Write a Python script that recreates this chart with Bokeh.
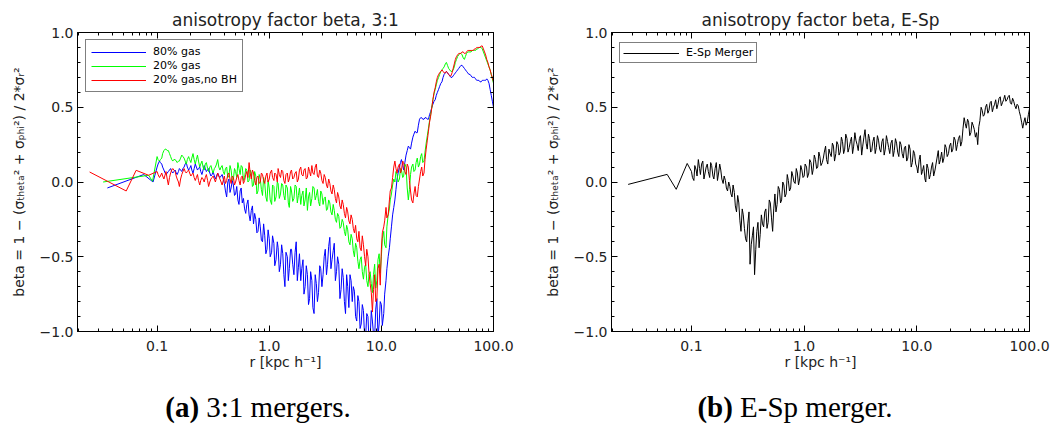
from bokeh.plotting import figure
from bokeh.models import (Range1d, LogAxis, LinearAxis, FixedTicker, CustomJSTickFormatter,
                          Legend, LegendItem, Div)
from bokeh.layouts import row, column
from bokeh.embed import file_html
from bokeh.resources import INLINE

# ---------------- data ----------------
R_GRID = [
    0.100, 0.105, 0.110, 0.115, 0.120, 0.126, 0.132, 0.138, 0.145, 0.151,
    0.158, 0.166, 0.174, 0.182, 0.191, 0.200, 0.209, 0.219, 0.229, 0.240,
    0.251, 0.263, 0.275, 0.288, 0.302, 0.316, 0.331, 0.347, 0.363, 0.380,
    0.398, 0.417, 0.437, 0.457, 0.479, 0.501, 0.525, 0.550, 0.575, 0.603,
    0.631, 0.661, 0.692, 0.724, 0.759, 0.794, 0.832, 0.871, 0.912, 0.955,
    1.00, 1.05, 1.10, 1.15, 1.20, 1.26, 1.32, 1.38, 1.45, 1.51,
    1.58, 1.66, 1.74, 1.82, 1.91, 2.00, 2.09, 2.19, 2.29, 2.40,
    2.51, 2.63, 2.75, 2.88, 3.02, 3.16, 3.31, 3.47, 3.63, 3.80,
    3.98, 4.17, 4.37, 4.57, 4.79, 5.01, 5.25, 5.50, 5.75, 6.03,
    6.31, 6.61, 6.92, 7.24, 7.59, 7.94, 8.32, 8.71, 9.12, 9.55,
    10.0, 10.5, 11.0, 11.5, 12.0, 12.6, 13.2, 13.8, 14.5, 15.1,
    15.8, 16.6, 17.4, 18.2, 19.1, 20.0, 20.9, 21.9, 22.9, 24.0,
    25.1, 26.3, 27.5, 28.8, 30.2, 31.6, 33.1, 34.7, 36.3, 38.0,
    39.8, 41.7, 43.7, 45.7, 47.9, 50.1, 52.5, 55.0, 57.5, 60.3,
    63.1, 66.1, 69.2, 72.4, 75.9, 79.4, 83.2, 87.1, 91.2, 95.5,
    100.0,
]
# radii of the in-between samples
R_MID = [
    0.102, 0.107, 0.112, 0.118, 0.123, 0.129, 0.135, 0.141, 0.148, 0.155,
    0.162, 0.170, 0.178, 0.186, 0.195, 0.204, 0.214, 0.224, 0.234, 0.245,
    0.257, 0.269, 0.282, 0.295, 0.309, 0.324, 0.339, 0.355, 0.372, 0.389,
    0.407, 0.427, 0.447, 0.468, 0.490, 0.513, 0.537, 0.562, 0.589, 0.617,
    0.646, 0.676, 0.708, 0.741, 0.776, 0.813, 0.851, 0.891, 0.933, 0.977,
    1.02, 1.07, 1.12, 1.18, 1.23, 1.29, 1.35, 1.41, 1.48, 1.55,
    1.62, 1.70, 1.78, 1.86, 1.95, 2.04, 2.14, 2.24, 2.34, 2.45,
    2.57, 2.69, 2.82, 2.95, 3.09, 3.24, 3.39, 3.55, 3.72, 3.89,
    4.07, 4.27, 4.47, 4.68, 4.90, 5.13, 5.37, 5.62, 5.89, 6.17,
    6.46, 6.76, 7.08, 7.41, 7.76, 8.13, 8.51, 8.91, 9.33, 9.77,
    10.2, 10.7, 11.2, 11.8, 12.3, 12.9, 13.5, 14.1, 14.8, 15.5,
    16.2, 17.0, 17.8, 18.6, 19.5, 20.4, 21.4, 22.4, 23.4, 24.5,
    25.7, 26.9, 28.2, 29.5, 30.9, 32.4, 33.9, 35.5, 37.2, 38.9,
    40.7, 42.7, 44.7, 46.8, 49.0, 51.3, 53.7, 56.2, 58.9, 61.7,
    64.6, 67.6, 70.8, 74.1, 77.6, 81.3, 85.1, 89.1, 93.3, 97.7,
]

# 80% gas (blue)
BLUE_R0 = [0.036, 0.076, 0.092]
BLUE_B0 = [-0.04, 0.05, 0.00]
BLUE_BETA = [
    0.10, 0.14, 0.12, 0.08, 0.05, 0.07, 0.09, 0.06, 0.08, 0.05,
    0.09, 0.07, 0.10, 0.13, 0.08, 0.11, 0.06, 0.12, 0.08, 0.10,
    0.05, 0.11, 0.07, 0.09, 0.04, 0.07, 0.02, 0.06, 0.03, 0.05,
    -0.01, -0.10, 0.02, -0.04, -0.02, -0.08, -0.12, -0.06, -0.14, -0.18,
    -0.15, -0.22, -0.19, -0.28, -0.25, -0.33, -0.30, -0.40, -0.36, -0.45,
    -0.38, -0.47, -0.41, -0.52, -0.44, -0.55, -0.48, -0.70, -0.50, -0.58,
    -0.45, -0.62, -0.40, -0.57, -0.66, -0.52, -0.70, -0.62, -0.78, -0.66,
    -0.88, -0.68, -0.74, -0.58, -0.62, -0.45, -0.55, -0.37, -0.52, -0.41,
    -0.60, -0.55, -0.72, -0.64, -0.88, -0.70, -0.62, -0.80, -0.73, -0.93,
    -0.80, -0.95, -0.86, -1.04, -0.90, -1.05, -0.93, -1.04, -0.78, -0.95,
    -0.82, -0.88, -0.66, -0.50, -0.38, -0.22, -0.12, 0.02, 0.10, 0.15,
    0.08, 0.18, 0.24, 0.22, 0.30, 0.34, 0.33, 0.42, 0.43, 0.42,
    0.43, 0.42, 0.47, 0.52, 0.55, 0.60, 0.64, 0.67, 0.72, 0.74,
    0.72, 0.70, 0.71, 0.73, 0.75, 0.77, 0.78, 0.76, 0.74, 0.72,
    0.71, 0.70, 0.69, 0.68, 0.67, 0.68, 0.68, 0.69, 0.66, 0.58,
    0.50,
]
BLUE_MID = [
    0.12, 0.13, 0.10, 0.06, 0.06, 0.08, 0.07, 0.07, 0.06, 0.07,
    0.08, 0.09, 0.12, 0.10, 0.09, 0.08, 0.09, 0.10, 0.09, 0.07,
    0.08, 0.09, 0.08, 0.06, 0.05, 0.04, 0.04, 0.04, 0.04, 0.02,
    -0.06, 0.00, -0.07, 0.01, -0.09, -0.03, -0.15, -0.04, -0.11, -0.21,
    -0.12, -0.26, -0.16, -0.21, -0.34, -0.24, -0.39, -0.28, -0.48, -0.32,
    -0.50, -0.36, -0.56, -0.40, -0.60, -0.42, -0.62, -0.47, -0.66, -0.45,
    -0.55, -0.47, -0.66, -0.48, -0.58, -0.75, -0.56, -0.82, -0.60, -0.84,
    -0.62, -0.80, -0.56, -0.70, -0.50, -0.62, -0.43, -0.58, -0.46, -0.66,
    -0.50, -0.78, -0.58, -0.80, -0.62, -0.84, -0.66, -0.70, -0.90, -0.76,
    -0.98, -0.82, -1.03, -0.88, -1.06, -0.86, -1.02, -0.85, -1.03, -0.80,
    -0.96, -0.75, -0.58, -0.44, -0.30, -0.17, -0.05, 0.06, 0.13, 0.11,
    0.13, 0.21, 0.23, 0.26, 0.32, 0.33, 0.38, 0.43, 0.42, 0.43,
    0.42, 0.45, 0.50, 0.54, 0.58, 0.62, 0.66, 0.70, 0.73, 0.73,
    0.71, 0.70, 0.72, 0.74, 0.76, 0.78, 0.77, 0.75, 0.73, 0.72,
    0.70, 0.70, 0.68, 0.68, 0.67, 0.68, 0.68, 0.68, 0.62, 0.54,
]

# 20% gas (green)
GREEN_R0 = [0.033, 0.084, 0.091]
GREEN_B0 = [0.00, 0.045, 0.005]
GREEN_BETA = [
    0.17, 0.14, 0.16, 0.21, 0.22, 0.21, 0.17, 0.14, 0.15, 0.13,
    0.14, 0.18, 0.16, 0.12, 0.17, 0.13, 0.19, 0.12, 0.18, 0.10,
    0.14, 0.08, 0.13, 0.07, 0.11, 0.06, 0.10, 0.15, 0.08, 0.11,
    0.05, 0.10, 0.04, 0.08, 0.02, 0.07, 0.13, 0.05, 0.10, 0.03,
    0.08, 0.01, 0.06, -0.02, 0.04, -0.06, 0.02, -0.09, -0.01, -0.13,
    -0.04, -0.15, -0.03, -0.10, -0.01, -0.08, -0.02, -0.12, -0.04, -0.17,
    -0.06, -0.11, -0.03, -0.09, -0.15, -0.06, -0.12, -0.19, -0.07, -0.11,
    -0.04, -0.09, -0.13, -0.06, -0.15, -0.10, -0.18, -0.14, -0.22, -0.19,
    -0.27, -0.23, -0.30, -0.27, -0.36, -0.32, -0.42, -0.38, -0.50, -0.44,
    -0.58, -0.50, -0.65, -0.55, -0.70, -0.60, -0.74, -0.55, -0.66, -0.48,
    -0.50, -0.33, -0.44, -0.22, -0.12, -0.02, 0.00, 0.05, 0.02, 0.08,
    0.04, 0.10, -0.12, 0.05, 0.12, 0.08, 0.16, 0.12, 0.19, 0.14,
    0.26, 0.36, 0.45, 0.55, 0.62, 0.68, 0.72, 0.75, 0.77, 0.80,
    0.76, 0.74, 0.75, 0.80, 0.84, 0.86, 0.85, 0.82, 0.86, 0.87,
    0.87, 0.88, 0.88, 0.89, 0.90, 0.89, 0.85, 0.81, 0.77, 0.72,
    0.66,
]
GREEN_MID = [
    0.15, 0.15, 0.19, 0.22, 0.21, 0.19, 0.15, 0.15, 0.14, 0.14,
    0.16, 0.17, 0.14, 0.15, 0.15, 0.16, 0.15, 0.15, 0.14, 0.12,
    0.10, 0.12, 0.09, 0.10, 0.08, 0.09, 0.12, 0.10, 0.10, 0.07,
    0.09, 0.03, 0.11, 0.01, 0.09, 0.03, 0.09, 0.11, 0.01, 0.09,
    0.00, 0.08, -0.03, 0.07, -0.08, 0.05, -0.05, 0.03, -0.10, 0.01,
    -0.12, -0.02, -0.13, 0.00, -0.11, -0.01, -0.09, -0.02, -0.14, -0.03,
    -0.13, -0.02, -0.14, -0.04, -0.09, -0.16, -0.04, -0.10, -0.16, -0.03,
    -0.12, -0.05, -0.16, -0.08, -0.11, -0.19, -0.12, -0.20, -0.15, -0.25,
    -0.21, -0.31, -0.25, -0.33, -0.29, -0.40, -0.35, -0.46, -0.41, -0.53,
    -0.52, -0.60, -0.57, -0.66, -0.62, -0.68, -0.62, -0.71, -0.52, -0.61,
    -0.38, -0.42, -0.30, -0.18, -0.08, 0.02, 0.07, 0.00, 0.09, 0.03,
    0.12, -0.04, -0.05, 0.10, 0.07, 0.13, 0.10, 0.17, 0.13, 0.20,
    0.31, 0.41, 0.50, 0.59, 0.65, 0.70, 0.74, 0.76, 0.79, 0.78,
    0.75, 0.74, 0.77, 0.82, 0.85, 0.86, 0.83, 0.84, 0.87, 0.87,
    0.88, 0.88, 0.89, 0.90, 0.90, 0.87, 0.83, 0.79, 0.75, 0.69,
]

# 20% gas, no BH (red)
RED_R0 = [0.025, 0.053, 0.065, 0.084]
RED_B0 = [0.067, -0.06, 0.078, 0.045]
RED_BETA = [
    0.07, 0.03, 0.06, 0.02, 0.07, -0.02, 0.06, 0.09, 0.07, 0.02,
    -0.03, 0.05, 0.09, 0.06, 0.08, 0.04, 0.06, 0.01, 0.05, -0.02,
    0.03, 0.00, 0.05, -0.03, 0.02, 0.04, 0.00, 0.06, 0.02, -0.02,
    0.04, 0.01, 0.06, -0.01, 0.03, 0.00, 0.05, -0.02, 0.04, 0.01,
    0.07, 0.13, 0.02, 0.06, -0.02, 0.04, 0.00, 0.05, -0.01, 0.06,
    0.02, 0.08, 0.01, 0.05, 0.09, 0.03, 0.07, -0.01, 0.06, 0.02,
    0.08, 0.03, 0.07, 0.02, 0.10, 0.04, 0.09, 0.03, 0.07, 0.11,
    0.05, 0.12, 0.03, 0.06, -0.01, 0.03, -0.04, -0.01, -0.08, -0.05,
    -0.14, -0.10, -0.18, -0.15, -0.24, -0.20, -0.28, -0.25, -0.34, -0.38,
    -0.33, -0.46, -0.42, -0.56, -0.50, -0.68, -0.87, -0.62, -0.78, -0.55,
    -0.45, -0.30, -0.17, -0.22, -0.06, 0.03, 0.14, 0.06, 0.12, 0.08,
    0.13, 0.05, 0.10, -0.06, -0.14, -0.03, -0.10, 0.02, 0.10, 0.06,
    0.22, 0.34, 0.44, 0.55, 0.63, 0.70, 0.73, 0.75, 0.73, 0.74,
    0.72, 0.71, 0.76, 0.82, 0.85, 0.86, 0.87, 0.86, 0.87, 0.88,
    0.88, 0.88, 0.89, 0.90, 0.90, 0.91, 0.87, 0.82, 0.77, 0.72,
    0.67,
]
RED_MID = [
    0.05, 0.04, 0.04, 0.05, 0.02, 0.03, 0.08, 0.08, 0.04, 0.00,
    0.02, 0.07, 0.07, 0.07, 0.06, 0.05, 0.03, 0.03, 0.01, 0.01,
    0.02, 0.03, 0.01, 0.00, 0.03, 0.02, 0.03, 0.04, 0.00, 0.01,
    -0.01, 0.05, 0.02, 0.04, -0.02, 0.03, 0.01, 0.03, -0.01, 0.05,
    0.03, 0.06, 0.08, 0.01, 0.03, -0.01, 0.06, 0.01, 0.04, 0.00,
    0.06, 0.03, 0.06, 0.00, 0.05, 0.08, 0.01, 0.05, 0.00, 0.07,
    0.02, 0.06, 0.00, 0.08, 0.05, 0.08, 0.02, 0.10, 0.04, 0.06,
    0.10, 0.04, 0.08, 0.01, 0.05, -0.02, 0.02, -0.06, -0.02, -0.11,
    -0.07, -0.16, -0.12, -0.21, -0.17, -0.26, -0.22, -0.31, -0.29, -0.40,
    -0.44, -0.36, -0.50, -0.45, -0.61, -0.74, -0.72, -0.80, -0.58, -0.69,
    -0.34, -0.26, -0.24, -0.12, -0.04, 0.10, 0.09, 0.10, 0.06, 0.14,
    0.07, 0.12, 0.01, -0.12, -0.08, -0.09, -0.03, 0.07, 0.04, 0.15,
    0.28, 0.40, 0.50, 0.60, 0.67, 0.72, 0.74, 0.74, 0.73, 0.73,
    0.71, 0.73, 0.79, 0.84, 0.86, 0.86, 0.87, 0.86, 0.88, 0.88,
    0.88, 0.89, 0.90, 0.90, 0.91, 0.89, 0.85, 0.80, 0.75, 0.70,
]

# E-Sp merger (black)
ESP_R0 = [0.0274, 0.0608, 0.0732, 0.0916]
ESP_B0 = [-0.016, 0.051, -0.049, 0.124]
ESP_BETA = [
    0.07, 0.01, 0.08, 0.15, 0.05, 0.14, 0.06, 0.12, 0.03, 0.11,
    0.02, 0.13, 0.06, 0.08, -0.01, 0.01, -0.06, -0.03, -0.10, -0.07,
    -0.20, -0.14, -0.33, -0.22, -0.38, -0.28, -0.55, -0.36, -0.62, -0.33,
    -0.44, -0.22, -0.30, -0.18, -0.27, -0.14, -0.33, -0.08, -0.15, -0.05,
    -0.12, -0.02, -0.08, 0.01, -0.04, 0.04, -0.01, 0.06, 0.02, 0.08,
    0.04, 0.10, 0.06, 0.13, 0.08, 0.15, 0.10, 0.17, 0.13, 0.20,
    0.15, 0.22, 0.17, 0.24, 0.19, 0.25, 0.20, 0.27, 0.22, 0.29,
    0.23, 0.30, 0.24, 0.28, 0.21, 0.31, 0.24, 0.35, 0.22, 0.29,
    0.21, 0.30, 0.23, 0.28, 0.20, 0.29, 0.22, 0.27, 0.19, 0.28,
    0.21, 0.26, 0.17, 0.25, 0.16, 0.24, 0.16, 0.22, 0.13, 0.19,
    0.10, 0.15, 0.05, 0.11, 0.00, 0.09, 0.05, 0.13, 0.08, 0.16,
    0.12, 0.20, 0.16, 0.23, 0.19, 0.26, 0.22, 0.28, 0.25, 0.31,
    0.27, 0.43, 0.36, 0.40, 0.33, 0.38, 0.30, 0.25, 0.41, 0.48,
    0.45, 0.52, 0.48, 0.54, 0.50, 0.55, 0.52, 0.57, 0.53, 0.58,
    0.55, 0.58, 0.52, 0.54, 0.49, 0.51, 0.44, 0.36, 0.43, 0.40,
    0.49,
]
ESP_MID = [
    0.03, 0.11, 0.04, 0.09, 0.12, 0.02, 0.10, 0.07, 0.13, 0.04,
    0.09, 0.01, 0.12, 0.02, 0.04, -0.04, 0.00, -0.08, -0.02, -0.16,
    -0.09, -0.26, -0.18, -0.31, -0.40, -0.20, -0.42, -0.30, -0.45, -0.27,
    -0.35, -0.28, -0.20, -0.31, -0.12, -0.24, -0.18, -0.20, -0.03, -0.14,
    0.00, -0.10, 0.05, -0.06, 0.07, 0.00, 0.09, -0.02, 0.11, 0.03,
    0.12, 0.03, 0.15, 0.05, 0.18, 0.09, 0.20, 0.11, 0.16, 0.24,
    0.12, 0.19, 0.26, 0.14, 0.27, 0.18, 0.30, 0.19, 0.32, 0.20,
    0.27, 0.19, 0.33, 0.25, 0.29, 0.18, 0.30, 0.26, 0.32, 0.20,
    0.27, 0.19, 0.31, 0.22, 0.27, 0.18, 0.31, 0.23, 0.26, 0.17,
    0.29, 0.20, 0.27, 0.19, 0.23, 0.14, 0.25, 0.10, 0.21, 0.12,
    0.06, 0.18, 0.07, 0.02, 0.12, 0.02, 0.10, 0.04, 0.12, 0.21,
    0.15, 0.13, 0.25, 0.17, 0.24, 0.20, 0.30, 0.21, 0.29, 0.24,
    0.36, 0.39, 0.42, 0.31, 0.40, 0.35, 0.33, 0.37, 0.50, 0.44,
    0.50, 0.46, 0.53, 0.47, 0.52, 0.49, 0.56, 0.51, 0.55, 0.54,
    0.57, 0.53, 0.56, 0.51, 0.52, 0.47, 0.40, 0.40, 0.38, 0.45,
]

LEFT_LABELS = ["80% gas", "20% gas", "20% gas,no BH"]
RIGHT_LABELS = ["E-Sp Merger"]
TITLES = ["anisotropy factor beta, 3:1", "anisotropy factor beta, E-Sp"]
CAPTION_TAGS = ["(a)", "(b)"]
CAPTION_TEXTS = ["3:1 mergers.", "E-Sp merger."]
X_TICKS = [0.1, 1.0, 10.0, 100.0]
Y_TICKS = [-1.0, -0.5, 0.0, 0.5, 1.0]
X_RANGE = (0.0195, 100.0)
Y_RANGE = (-1.0, 1.0)

for arr in (BLUE_BETA, GREEN_BETA, RED_BETA, ESP_BETA):
    assert len(arr) == len(R_GRID), len(arr)
for arr in (BLUE_MID, GREEN_MID, RED_MID, ESP_MID):
    assert len(arr) == len(R_MID), len(arr)


def series(r0, b0, beta, mid):
    """Join the sparse inner samples with the main and in-between samples, in radius order."""
    xs = list(r0)
    ys = list(b0)
    for k in range(len(R_MID)):
        xs += [R_GRID[k], R_MID[k]]
        ys += [beta[k], mid[k]]
    xs.append(R_GRID[-1])
    ys.append(beta[-1])
    return xs, ys


FONT = "DejaVu Sans"
TXT = "#222222"
Y_LABEL = "beta = 1 \u2212 (\u03c3\u209c\u2095\u2091\u209c\u2090\u00b2 + \u03c3\u209a\u2095\u1d62\u00b2) / 2*\u03c3\u1d63\u00b2"
X_LABEL = "r [kpc h\u207b\u00b9]"

X_MINOR = [k * 10.0 ** d for d in (-2, -1, 0, 1) for k in range(2, 10)]
Y_MINOR = [i / 10 for i in range(-10, 11) if i % 5 != 0]

fmt_code = "return tick.toFixed(1).replace('-', '\\u2212');"


def style_axis(ax, ticks, minor, labels):
    ax.ticker = FixedTicker(ticks=ticks, minor_ticks=minor)
    ax.major_tick_in = 6
    ax.major_tick_out = 0
    ax.minor_tick_in = 3
    ax.minor_tick_out = 0
    ax.axis_line_color = "black"
    ax.major_tick_line_color = "black"
    ax.minor_tick_line_color = "black"
    if labels:
        ax.formatter = CustomJSTickFormatter(code=fmt_code)
        ax.major_label_text_font = FONT
        ax.major_label_text_font_size = "14px"
        ax.major_label_text_color = TXT
        ax.axis_label_text_font = FONT
        ax.axis_label_text_font_size = "14px"
        ax.axis_label_text_font_style = "normal"
        ax.axis_label_text_color = TXT
    else:
        ax.major_label_text_font_size = "1px"
        ax.major_label_text_color = None
        ax.major_label_standoff = 0


def make_fig(border_left, border_right, title):
    p = figure(width=528, height=385, x_axis_type="log",
               x_range=Range1d(*X_RANGE), y_range=Range1d(*Y_RANGE),
               output_backend="svg", toolbar_location=None,
               min_border_left=border_left, min_border_right=border_right,
               min_border_top=32, min_border_bottom=54)
    p.xgrid.visible = False
    p.ygrid.visible = False
    p.outline_line_color = "black"
    p.outline_line_width = 1
    p.background_fill_color = "white"
    p.border_fill_color = "white"

    p.title.text = title
    p.title.align = "center"
    p.title.text_font = FONT
    p.title.text_font_size = "17px"
    p.title.text_font_style = "normal"
    p.title.text_color = TXT
    p.title.standoff = 5
    p.title.offset = 0

    xa = p.xaxis[0]
    style_axis(xa, X_TICKS, X_MINOR, True)
    xa.axis_label = X_LABEL
    xa.major_label_standoff = 9
    xa.axis_label_standoff = 0
    ya = p.yaxis[0]
    style_axis(ya, Y_TICKS, Y_MINOR, True)
    ya.axis_label = Y_LABEL
    ya.major_label_standoff = 4
    ya.axis_label_standoff = 10

    top = LogAxis()
    style_axis(top, X_TICKS, X_MINOR, False)
    p.add_layout(top, "above")
    right = LinearAxis()
    style_axis(right, Y_TICKS, Y_MINOR, False)
    p.add_layout(right, "right")
    return p


def style_legend(leg):
    leg.border_line_color = "black"
    leg.border_line_width = 1
    leg.background_fill_color = "white"
    leg.background_fill_alpha = 1.0
    leg.label_text_font = FONT
    leg.label_text_font_size = "11px"
    leg.label_text_color = "black"
    leg.glyph_height = 12
    leg.label_height = 12
    leg.spacing = 1
    leg.margin = 0


def caption(tag, text, shift):
    html = ('<div style="width:528px;text-align:center;font-family:\'Liberation Serif\';'
            'font-size:29px;line-height:30px;color:black;padding-top:7px;'
            'position:relative;left:%dpx;"><b>%s</b> %s</div>' % (shift, tag, text))
    return Div(text=html, width=528, height=40, margin=0)


# ---------------- left panel ----------------
p1 = make_fig(77, 35, TITLES[0])
bx, by = series(BLUE_R0, BLUE_B0, BLUE_BETA, BLUE_MID)
gx, gy = series(GREEN_R0, GREEN_B0, GREEN_BETA, GREEN_MID)
qx, qy = series(RED_R0, RED_B0, RED_BETA, RED_MID)
rb = p1.line(bx, by, line_color="#0000ff", line_width=1)
rg = p1.line(gx, gy, line_color="#00ff00", line_width=1)
rr = p1.line(qx, qy, line_color="#ff0000", line_width=1)
leg1 = Legend(items=[LegendItem(label=LEFT_LABELS[0], renderers=[rb]),
                     LegendItem(label=LEFT_LABELS[1], renderers=[rg]),
                     LegendItem(label=LEFT_LABELS[2], renderers=[rr])],
              location=(8, 239), padding=5, glyph_width=55, label_standoff=7)
style_legend(leg1)
p1.add_layout(leg1)

# ---------------- right panel ----------------
p2 = make_fig(83, 27, TITLES[1])
kx, ky = series(ESP_R0, ESP_B0, ESP_BETA, ESP_MID)
rk = p2.line(kx, ky, line_color="black", line_width=1)
leg2 = Legend(items=[LegendItem(label=RIGHT_LABELS[0], renderers=[rk])],
              location=(8, 268), padding=3, glyph_width=56, label_standoff=7)
style_legend(leg2)
p2.add_layout(leg2)

cap1 = caption(CAPTION_TAGS[0], CAPTION_TEXTS[0], -6)
cap2 = caption(CAPTION_TAGS[1], CAPTION_TEXTS[1], 3)

layout = column(row(p1, p2, spacing=0), row(cap1, cap2, spacing=0), spacing=0)
open("out.html", "w").write(file_html(layout, INLINE))
